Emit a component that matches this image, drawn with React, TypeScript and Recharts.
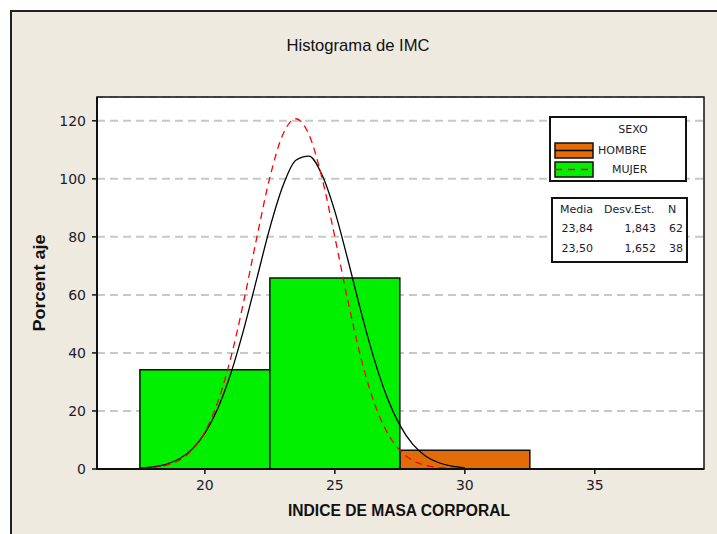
import { ComposedChart, Line, XAxis, YAxis, CartesianGrid, ReferenceArea } from 'recharts';

// histogram bins (percent within each group)
const mujerBins = [
  { from: 17.5, to: 22.5, pct: 34.2 },
  { from: 22.5, to: 27.5, pct: 65.8 },
];
const hombreBins = [{ from: 27.5, to: 32.5, pct: 6.45 }];

// fitted curves
const curveX = [17.5, 18, 18.5, 19, 19.5, 20, 20.5, 21, 21.5, 22, 22.5, 23, 23.5, 24, 24.5, 25, 25.5, 26, 26.5, 27, 27.5, 28, 28.5, 29, 29.5, 30];
const hombreCurve = [0.29, 0.71, 1.63, 3.44, 6.76, 12.35, 20.95, 33.0, 48.3, 65.7, 83.1, 97.5, 106.4, 107.8, 101.5, 88.8, 72.1, 54.4, 38.2, 24.9, 15.1, 8.47, 4.42, 2.15, 0.97, 0.41];
const mujerCurve = [0.17, 0.47, 1.24, 2.95, 6.44, 12.8, 23.2, 38.4, 58.0, 79.9, 100.5, 115.3, 120.7, 115.3, 100.5, 79.9, 58.0, 38.4, 23.2, 12.8, 6.44, 2.95, 1.24, 0.47, 0.17, 0.05];

const xTicks = [20, 25, 30, 35];
const yTicks = [0, 20, 40, 60, 80, 100, 120];

const stats = [
  { media: '23,84', desv: '1,843', n: '62' },
  { media: '23,50', desv: '1,652', n: '38' },
];

const ORANGE = '#e36c09';
const GREEN = '#00f000';
const BEIGE = '#eeeae0';
const FONT = '"DejaVu Sans", Tahoma, sans-serif';

const hombreData = curveX.map((x, i) => ({ x, y: hombreCurve[i] }));
const mujerData = curveX.map((x, i) => ({ x, y: mujerCurve[i] }));

export default function App() {
  const tickStyle = { fontSize: 14, fill: '#1c1c2c', fontFamily: FONT };
  return (
    <div style={{ position: 'absolute', left: 0, top: 0, width: 717, height: 534, background: '#fff', overflow: 'hidden' }}>
      <div
        style={{
          position: 'absolute', left: 10, top: 10, width: 720, height: 540,
          background: BEIGE, borderLeft: '2px solid #222', borderTop: '2px solid #222', boxSizing: 'border-box',
        }}
      />
      <div style={{ position: 'absolute', left: 0, top: 0 }}>
        <ComposedChart width={717} height={534} margin={{ top: 97, right: 13, bottom: 35, left: 37 }}>
          <CartesianGrid vertical={false} fill="#fff" stroke="#c8c8c8" strokeWidth={2} strokeDasharray="8 5" />
          <XAxis
            type="number"
            dataKey="x"
            domain={[15.85, 39.2]}
            ticks={xTicks}
            allowDataOverflow
            height={30}
            tickSize={5}
            tickMargin={6}
            axisLine={{ stroke: '#111', strokeWidth: 2 }}
            tickLine={{ stroke: '#111', strokeWidth: 1.5 }}
            tick={tickStyle}
          />
          <YAxis
            type="number"
            domain={[0, 128.2]}
            ticks={yTicks}
            allowDataOverflow
            width={60}
            tickSize={5}
            tickMargin={6}
            axisLine={{ stroke: '#111', strokeWidth: 2 }}
            tickLine={{ stroke: '#111', strokeWidth: 1.5 }}
            tick={tickStyle}
          />
          {hombreBins.map((b, i) => (
            <ReferenceArea key={`h${i}`} x1={b.from} x2={b.to} y1={0} y2={b.pct} fill={ORANGE} fillOpacity={1} stroke="#111" strokeWidth={1.5} />
          ))}
          {mujerBins.map((b, i) => (
            <ReferenceArea key={`m${i}`} x1={b.from} x2={b.to} y1={0} y2={b.pct} fill={GREEN} fillOpacity={1} stroke="#111" strokeWidth={1.5} />
          ))}
          <Line data={hombreData} dataKey="y" type="monotone" stroke="#000" strokeWidth={1.3} dot={false} isAnimationActive={false} />
          <Line data={mujerData} dataKey="y" type="monotone" stroke="#ff0000" strokeWidth={1.3} strokeDasharray="7 5" dot={false} isAnimationActive={false} />
        </ComposedChart>
      </div>
      <svg width={717} height={534} style={{ position: 'absolute', left: 0, top: 0, pointerEvents: 'none' }}>
        <rect x={97} y={97} width={607} height={372} fill="none" stroke="#111" strokeWidth={1.5} />
        <text x={358} y={51} textAnchor="middle" fontSize={17} fontFamily='"Liberation Sans", Arial, sans-serif' fill="#111" textLength={143} lengthAdjust="spacingAndGlyphs">
          Histograma de IMC
        </text>
        <text x={399} y={516} textAnchor="middle" fontSize={16} fontWeight="bold" fontFamily='"Liberation Sans", Arial, sans-serif' fill="#111" textLength={222} lengthAdjust="spacingAndGlyphs">
          INDICE DE MASA CORPORAL
        </text>
        <text x={45} y={283} transform="rotate(-90, 45, 283)" textAnchor="middle" fontSize={16} fontWeight="bold" fontFamily='"Liberation Sans", Arial, sans-serif' fill="#111" textLength={97} lengthAdjust="spacingAndGlyphs">
          Porcent aje
        </text>

        {/* legend */}
        <rect x={550} y={117} width={136} height={64} fill="#fff" stroke="#111" strokeWidth={2} />
        <text x={633} y={133} textAnchor="middle" fontSize={11} fontFamily={FONT} fill="#1c1c2c">SEXO</text>
        <rect x={555} y={143} width={38} height={15} fill={ORANGE} stroke="#111" strokeWidth={1.5} />
        <line x1={555} x2={593} y1={150.5} y2={150.5} stroke="#000" strokeWidth={1.3} />
        <text x={598} y={154} fontSize={11} fontFamily={FONT} fill="#1c1c2c">HOMBRE</text>
        <rect x={555} y={162} width={38} height={15} fill={GREEN} stroke="#111" strokeWidth={1.5} />
        <line x1={555} x2={593} y1={169.5} y2={169.5} stroke="#ff0000" strokeWidth={1.3} strokeDasharray="7 6" />
        <text x={612} y={173} fontSize={11} fontFamily={FONT} fill="#1c1c2c">MUJER</text>

        {/* stats table */}
        <rect x={552} y={198} width={135} height={64} fill="#fff" stroke="#111" strokeWidth={2} />
        <text x={560} y={213} fontSize={11} fontFamily={FONT} fill="#1c1c2c">Media</text>
        <text x={604} y={213} fontSize={11} fontFamily={FONT} fill="#1c1c2c">Desv.Est.</text>
        <text x={668} y={213} fontSize={11} fontFamily={FONT} fill="#1c1c2c">N</text>
        {stats.map((s, i) => (
          <g key={i} fontSize={11} fontFamily={FONT} fill="#1c1c2c" textAnchor="end">
            <text x={593} y={232 + i * 20}>{s.media}</text>
            <text x={656} y={232 + i * 20}>{s.desv}</text>
            <text x={683} y={232 + i * 20}>{s.n}</text>
          </g>
        ))}
      </svg>
    </div>
  );
}
